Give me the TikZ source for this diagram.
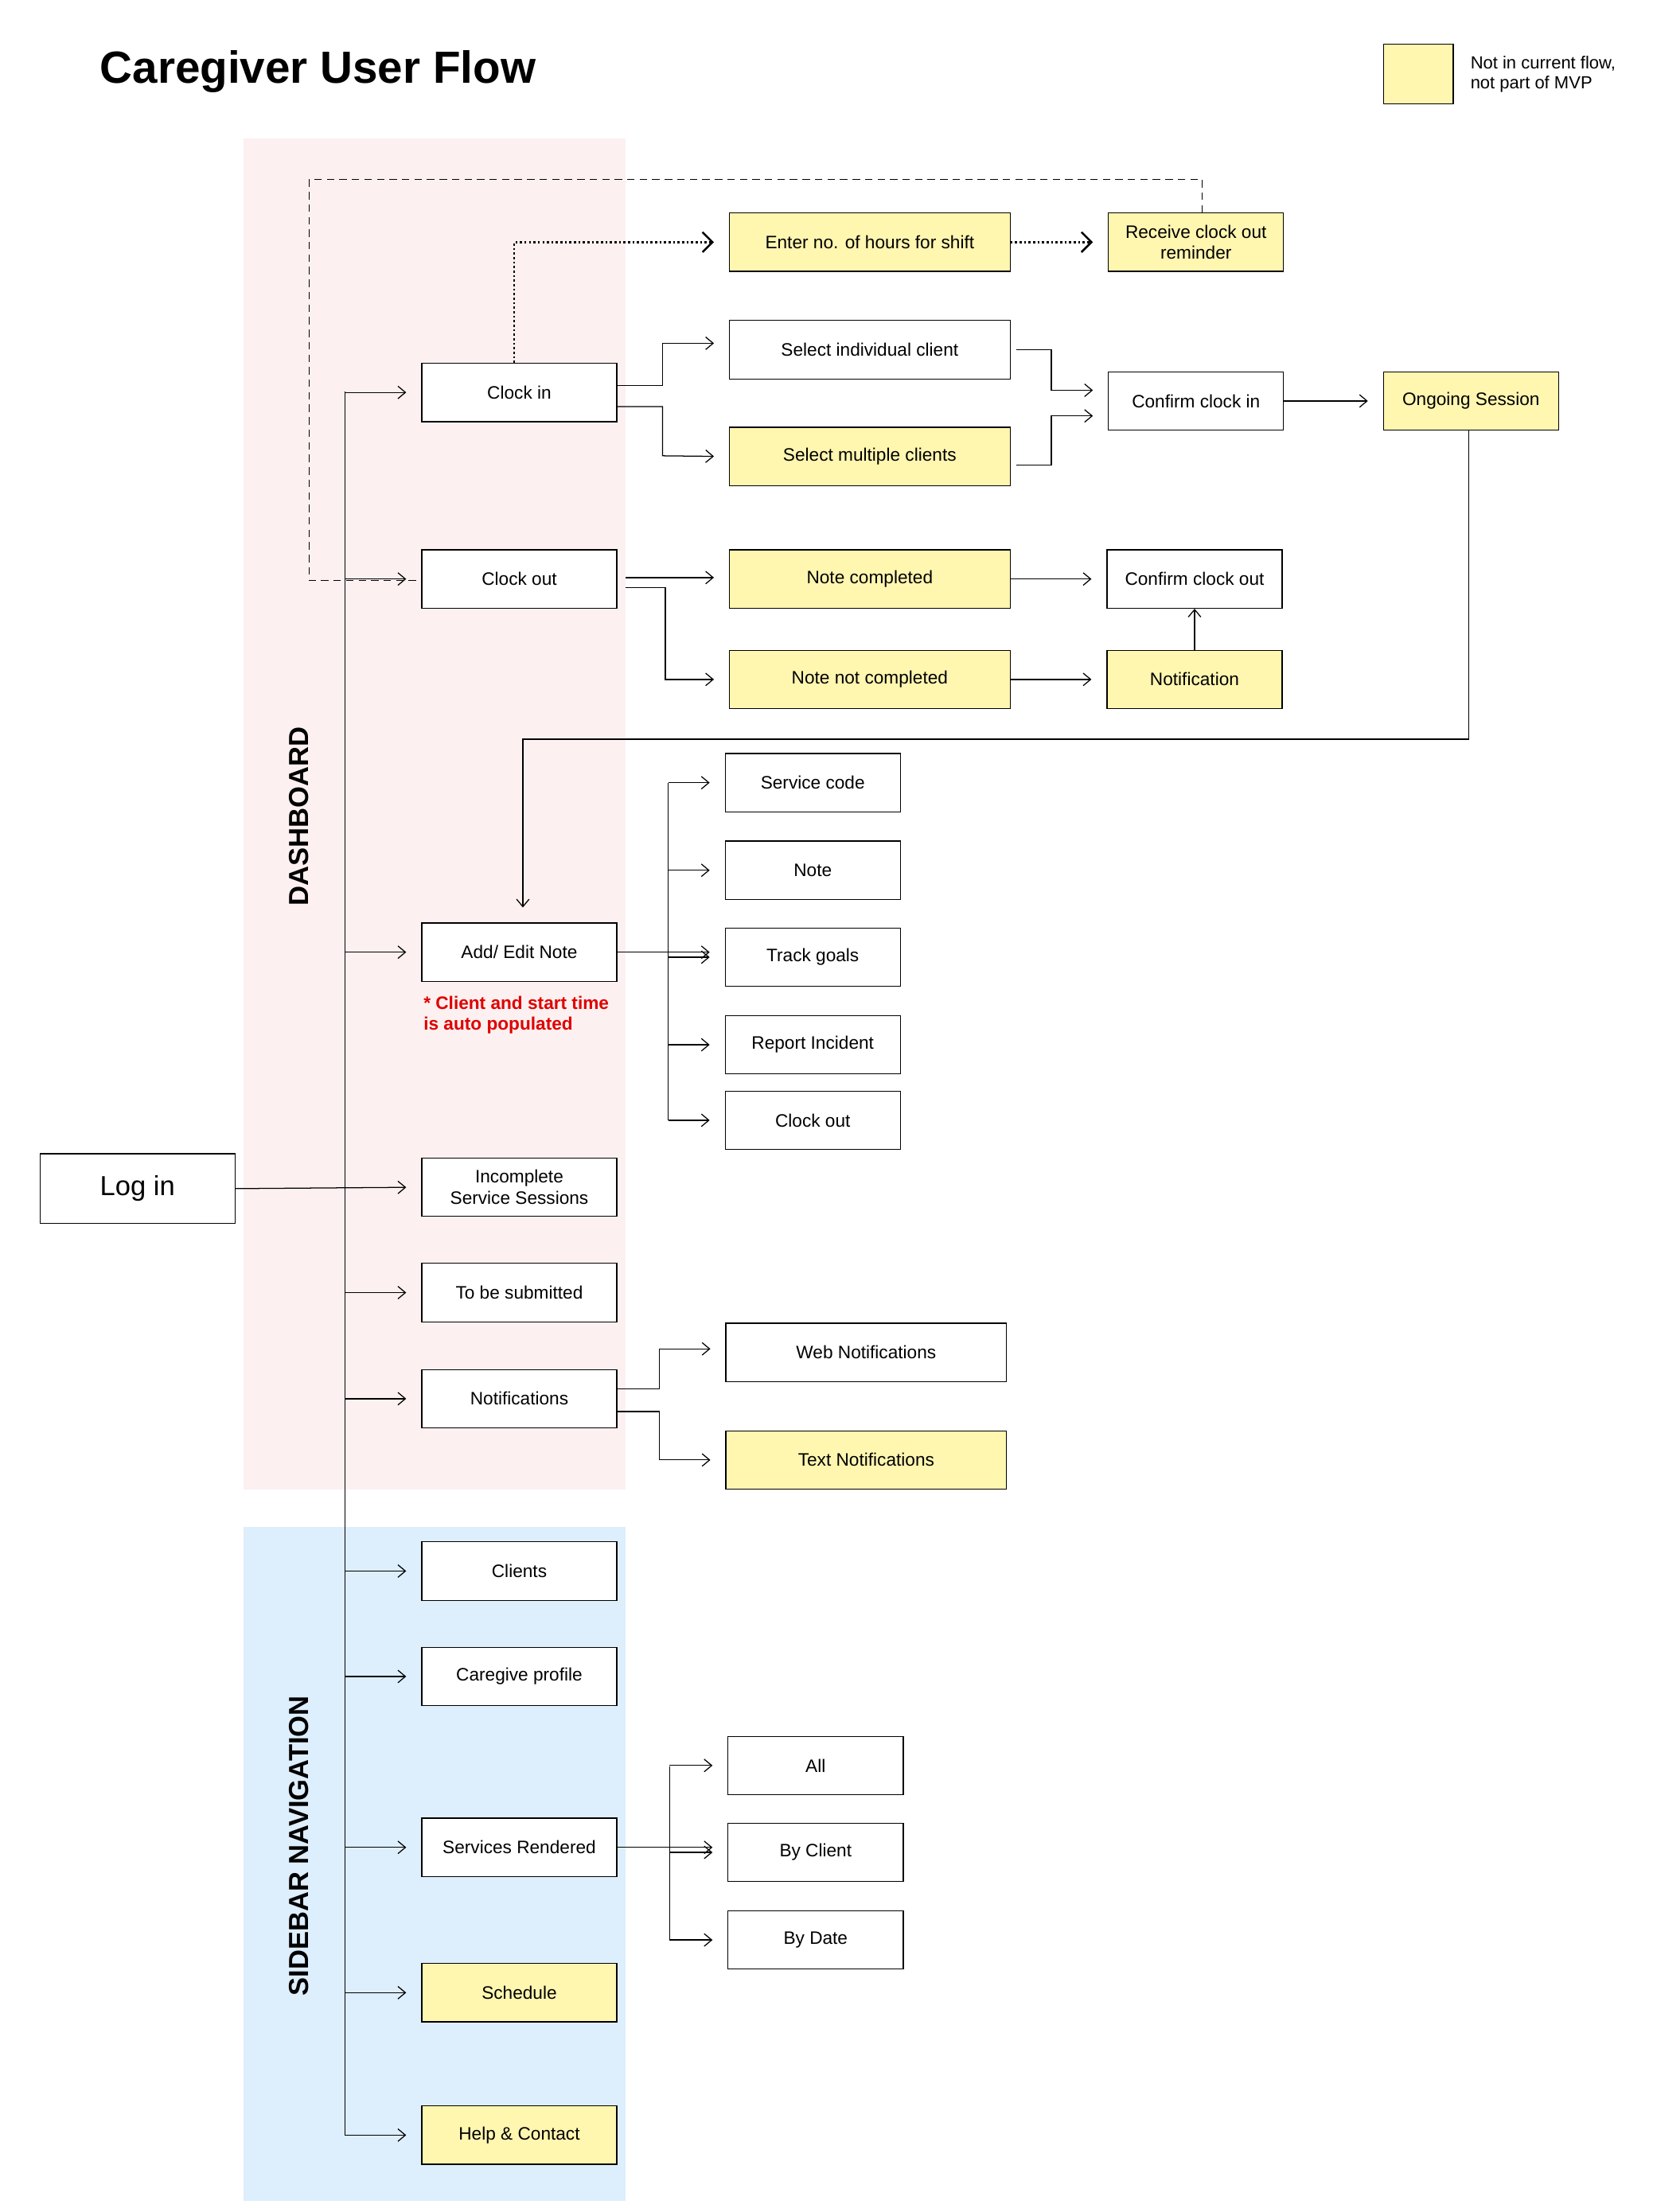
\documentclass[tikz,border=0pt]{standalone}
\usepackage{fontspec}
\setmainfont{Liberation Sans}
\usetikzlibrary{arrows.meta,calc}
\definecolor{mvp}{HTML}{FFF6B0}
\definecolor{dashpink}{HTML}{FDF0F0}
\definecolor{sideblue}{HTML}{DDEEFD}
\definecolor{notered}{HTML}{E00000}
\begin{document}
\begin{tikzpicture}[x=0.02cm,y=-0.02cm,
  box/.style={rectangle, draw, minimum width=2.74cm, minimum height=0.82cm, text centered, align=center, font=\fontsize{7.2}{8.4}\selectfont, fill=white},
  wide/.style={box, minimum width=3.94cm},
  small/.style={box, minimum width=2.46cm},
  todo/.style={fill=mvp},
  arrow/.style={-{Straight Barb[length=3pt,width=5pt]}, shorten >=6pt},
  dots/.style={-{Straight Barb[length=4pt,width=8pt]}, thick, densely dotted, shorten >=6pt}
]
\useasboundingbox (0,0) rectangle (1160,1553);
% background areas
\fill[dashpink] (171,97) rectangle (439,1046);
\fill[sideblue] (171,1072) rectangle (439,1545);
\node[rotate=90, font=\bfseries\fontsize{11}{12}\selectfont] (dashlbl) at (210,573) {DASHBOARD};
\node[rotate=90, font=\bfseries\fontsize{11}{12}\selectfont] (sidelbl) at (210,1296) {SIDEBAR NAVIGATION};
\node[anchor=west, font=\bfseries\fontsize{18}{21}\selectfont] (title) at (64,50) {Caregiver User Flow};

% legend
\node[box, todo, minimum width=0.98cm, minimum height=0.84cm] (legend) at (995.5,52) {};
\node[anchor=west, align=left, font=\fontsize{7}{8}\selectfont] (legendtxt) at (1026,52) {Not in current flow,\\not part of MVP};

% main column
\node[box, minimum height=0.98cm, font=\fontsize{11}{12}\selectfont] (login) at (96.5,834.5) {Log in};
\node[box] (clockin) at (364.5,275.5) {Clock in};
\node[box] (clockout) at (364.5,406.5) {Clock out};
\node[box] (addnote) at (364.5,668.5) {Add/ Edit Note};
\node[box] (incomplete) at (364.5,833.5) {Incomplete\\Service Sessions};
\node[box] (tosubmit) at (364.5,907.5) {To be submitted};
\node[box] (notifs) at (364.5,982) {Notifications};
\node[box] (clients) at (364.5,1103) {Clients};
\node[box] (profile) at (364.5,1177) {Caregive profile};
\node[box] (services) at (364.5,1297) {Services Rendered};
\node[box, todo] (schedule) at (364.5,1399) {Schedule};
\node[box, todo] (help) at (364.5,1499) {Help \& Contact};
\node[anchor=north west, align=left, text=notered, font=\bfseries\fontsize{7.2}{8.4}\selectfont, inner sep=0pt] (autonote) at (297,699) {* Client and start time\\is auto populated};

% clock in / out
\node[wide, todo] (hours) at (610.5,170) {Enter no. of hours for shift};
\node[small, todo] (reminder) at (839.5,170) {Receive clock out\\reminder};
\node[wide] (single) at (610.5,245.5) {Select individual client};
\node[wide, todo] (multi) at (610.5,320.5) {Select multiple clients};
\node[small] (confirmin) at (839.5,281.5) {Confirm clock in};
\node[small, todo] (session) at (1032.5,281.5) {Ongoing Session};
\node[wide, todo] (notedone) at (610.5,406.5) {Note completed};
\node[wide, todo] (noteopen) at (610.5,477) {Note not completed};
\node[small] (confirmout) at (838.5,406.5) {Confirm clock out};
\node[small, todo] (notice) at (838.5,477) {Notification};

% note items
\node[small] (svccode) at (570.5,549.5) {Service code};
\node[small] (note) at (570.5,611) {Note};
\node[small] (goals) at (570.5,672) {Track goals};
\node[small] (incident) at (570.5,733.5) {Report Incident};
\node[small] (noteout) at (570.5,786.5) {Clock out};

% notifications
\node[wide] (webnote) at (608,949.5) {Web Notifications};
\node[wide, todo] (textnote) at (608,1025) {Text Notifications};

% services rendered
\node[small] (all) at (572.5,1239.5) {All};
\node[small] (byclient) at (572.5,1300.5) {By Client};
\node[small] (bydate) at (572.5,1362) {By Date};

% spine
\coordinate (sptop) at (242,275);
\coordinate (spbot) at (242,1499);
\draw (sptop) -- (spbot);
\draw[arrow] (login.east) -- (incomplete.west);
\foreach \b in {clockin,clockout,addnote,tosubmit,notifs,clients,profile,services,schedule,help}
  \draw[arrow] (sptop |- \b.west) -- (\b.west);

% clock in branch
\draw[dots] (clockin.north -| 361,0) |- (hours.west);
\draw[dots] (hours.east) -- (reminder.west);
\draw[dashed, dash pattern=on 3pt off 2pt] (reminder.north -| 844,0) |- (217,126) |- ($(clockout.west)+(0,1)$);
\draw[arrow] ($(clockin.east)+(0,-5)$) -| (465,241) -- (single.west |- 465,241);
\draw[arrow] ($(clockin.east)+(0,10)$) -| (465,320) -- (multi.west);
\draw[arrow] ($(single.east)+(4,0)$) -| (738,274) -- (confirmin.west |- 738,274);
\draw[arrow] ($(multi.east)+(4,6)$) -| (738,292) -- (confirmin.west |- 738,292);
\draw[arrow] (confirmin.east) -- (session.west);
\draw[arrow] (session.south -| 1031,0) |- (367,519) -- (addnote.north -| 367,0);

% clock out branch
\draw[arrow] ($(clockout.east)+(6,-1)$) -- (notedone.west |- 0,405.5);
\draw[arrow] ($(clockout.east)+(6,6)$) -| (467,477) -- (noteopen.west);
\draw[arrow] (notedone.east) -- (confirmout.west);
\draw[arrow] (noteopen.east) -- (notice.west);
\draw[-{Straight Barb[length=3pt,width=5pt]}] (notice.north) -- (confirmout.south);

% note branch
\draw[arrow] (addnote.east) -- (goals.west |- addnote.east);
\draw (469,549.5) -- (469,786.5);
\foreach \b in {svccode,note,goals,incident,noteout}
  \draw[arrow] (469,0 |- \b.west) -- (\b.west);

% notifications branch
\draw[arrow] ($(notifs.east)+(0,-7)$) -| (463,947) -- (webnote.west |- 463,947);
\draw[arrow] ($(notifs.east)+(0,9)$) -| (463,1025) -- (textnote.west);

% services branch
\draw[arrow] (services.east) -- (byclient.west |- services.east);
\draw (470,1240) -- (470,1362);
\foreach \b in {all,byclient,bydate}
  \draw[arrow] (470,0 |- \b.west) -- (\b.west);
\end{tikzpicture}
\end{document}
